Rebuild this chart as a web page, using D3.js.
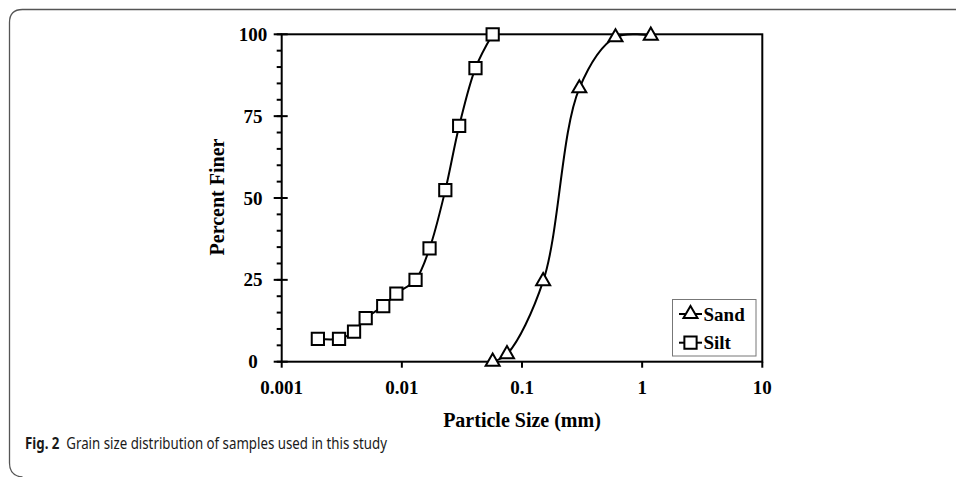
<!DOCTYPE html>
<html>
<head>
<meta charset="utf-8">
<script src="https://cdn.jsdelivr.net/npm/d3@7"></script>
<style>
  body { margin: 0; background: #fff; }
  svg { display: block; }
  .tick-label, .axis-title, .legend-label { font-family: "Liberation Serif", "Times New Roman", serif; font-weight: bold; fill: #000; }
</style>
</head>
<body>
<svg id="chart" width="956" height="477"></svg>
<script>
// particle size (mm) and percent finer
var siltSize  = [0.002, 0.003, 0.004, 0.005, 0.007, 0.009, 0.013, 0.017, 0.023, 0.03, 0.041, 0.057];
var siltFiner = [7, 7, 9.2, 13.3, 17, 20.8, 25, 34.6, 52.4, 72, 89.7, 100];
var sandSize  = [0.057, 0.075, 0.15, 0.3, 0.6, 1.18];
var sandFiner = [0, 2.3, 24.6, 83.5, 99.1, 99.6];

var xTicks = [0.001, 0.01, 0.1, 1, 10];
var xTickLabels = ["0.001", "0.01", "0.1", "1", "10"];
var yTicks = [0, 25, 50, 75, 100];
var yMinorTicks = d3.range(0, 101, 5);

var seriesNames = ["Sand", "Silt"];

var svg = d3.select("#chart");
var width = 956, height = 477;

var plotLeft = 281.7, plotRight = 762.3, plotTop = 34.3, plotBottom = 361.7;

var x = d3.scaleLog().domain([0.001, 10]).range([plotLeft, plotRight]);
var y = d3.scaleLinear().domain([0, 100]).range([plotBottom, plotTop]);

// outer figure frame (rounded on the left side)
var r = 13;
svg.append("path")
    .attr("d", "M" + width + ",9.5 L" + (9.5 + r) + ",9.5 Q9.5,9.5 9.5," + (9.5 + r) +
               " L9.5,463 Q9.5,476 " + (9.5 + r) + ",477")
    .attr("fill", "none")
    .attr("stroke", "#555")
    .attr("stroke-width", 1.3);

// minor y ticks (outward)
svg.append("g").selectAll("line")
    .data(yMinorTicks)
    .enter().append("line")
    .attr("x1", plotLeft - 5).attr("x2", plotLeft)
    .attr("y1", d => y(d)).attr("y2", d => y(d))
    .attr("stroke", "#000").attr("stroke-width", 2);

// major y ticks (cross the axis)
svg.append("g").selectAll("line")
    .data(yTicks)
    .enter().append("line")
    .attr("x1", plotLeft - 8).attr("x2", plotLeft + 6)
    .attr("y1", d => y(d)).attr("y2", d => y(d))
    .attr("stroke", "#000").attr("stroke-width", 2);

// x ticks
svg.append("g").selectAll("line")
    .data(xTicks)
    .enter().append("line")
    .attr("x1", d => x(d)).attr("x2", d => x(d))
    .attr("y1", plotBottom).attr("y2", plotBottom + 6)
    .attr("stroke", "#000").attr("stroke-width", 2);

// plot box
svg.append("rect")
    .attr("x", plotLeft).attr("y", plotTop)
    .attr("width", plotRight - plotLeft).attr("height", plotBottom - plotTop)
    .attr("fill", "none")
    .attr("stroke", "#000")
    .attr("stroke-width", 2);

svg.append("g").selectAll("text")
    .data(yTicks)
    .enter().append("text")
    .attr("class", "tick-label")
    .attr("x", 253)
    .attr("y", d => y(d) + 6.5)
    .attr("text-anchor", "middle")
    .style("font-size", "19px")
    .text(d => d);

svg.append("g").selectAll("text")
    .data(xTicks)
    .enter().append("text")
    .attr("class", "tick-label")
    .attr("x", d => x(d))
    .attr("y", 393.5)
    .attr("text-anchor", "middle")
    .style("font-size", "19px")
    .text((d, i) => xTickLabels[i]);

svg.append("text")
    .attr("class", "axis-title")
    .attr("x", (plotLeft + plotRight) / 2)
    .attr("y", 427)
    .attr("text-anchor", "middle")
    .style("font-size", "20px")
    .text("Particle Size (mm)");

svg.append("text")
    .attr("class", "axis-title")
    .attr("transform", "translate(224,197) rotate(-90)")
    .attr("text-anchor", "middle")
    .style("font-size", "20px")
    .text("Percent Finer");

// smoothed curves
var line = d3.line()
    .x(d => x(d[0]))
    .y(d => y(d[1]))
    .curve(d3.curveCatmullRom.alpha(0.5));

var sand = sandSize.map((s, i) => [s, sandFiner[i]]);
var silt = siltSize.map((s, i) => [s, siltFiner[i]]);

svg.append("path").datum(sand)
    .attr("d", line)
    .attr("fill", "none").attr("stroke", "#000").attr("stroke-width", 2);
svg.append("path").datum(silt)
    .attr("d", line)
    .attr("fill", "none").attr("stroke", "#000").attr("stroke-width", 2);

var tri = d3.symbol().type(d3.symbolTriangle).size(85);
var sq = d3.symbol().type(d3.symbolSquare).size(150);

svg.append("g").selectAll("path")
    .data(sand)
    .enter().append("path")
    .attr("d", tri)
    .attr("transform", d => "translate(" + x(d[0]) + "," + y(d[1]) + ")")
    .attr("fill", "#fff").attr("stroke", "#000").attr("stroke-width", 2);

svg.append("g").selectAll("path")
    .data(silt)
    .enter().append("path")
    .attr("d", sq)
    .attr("transform", d => "translate(" + x(d[0]) + "," + y(d[1]) + ")")
    .attr("fill", "#fff").attr("stroke", "#000").attr("stroke-width", 2);

// legend
var legend = svg.append("g");
legend.append("rect")
    .attr("x", 672.5).attr("y", 299.5)
    .attr("width", 83.5).attr("height", 56.5)
    .attr("fill", "#fff")
    .attr("stroke", "#777").attr("stroke-width", 1);

var rows = legend.selectAll("g.row")
    .data(seriesNames)
    .enter().append("g")
    .attr("class", "row")
    .attr("transform", (d, i) => "translate(0," + (314 + i * 28.7) + ")");

rows.append("line")
    .attr("x1", 679).attr("x2", 702)
    .attr("stroke", "#000").attr("stroke-width", 2);
rows.append("path")
    .attr("d", (d, i) => i === 0 ? tri() : sq())
    .attr("transform", "translate(690.5,0)")
    .attr("fill", "#fff").attr("stroke", "#000").attr("stroke-width", 2);
rows.append("text")
    .attr("class", "legend-label")
    .attr("x", 703.5)
    .attr("y", 6.5)
    .style("font-size", "19px")
    .text(d => d);

// caption
var cap = svg.append("text")
    .attr("x", 25)
    .attr("y", 449)
    .attr("textLength", 362)
    .attr("lengthAdjust", "spacingAndGlyphs")
    .style("font-family", "'Noto Sans', 'Open Sans', sans-serif")
    .style("font-size", "15.5px")
    .attr("fill", "#1a1a1a");
cap.append("tspan").style("font-weight", "bold").text("Fig. 2");
cap.append("tspan").attr("dx", 8).text("Grain size distribution of samples used in this study");
</script>
</body>
</html>
